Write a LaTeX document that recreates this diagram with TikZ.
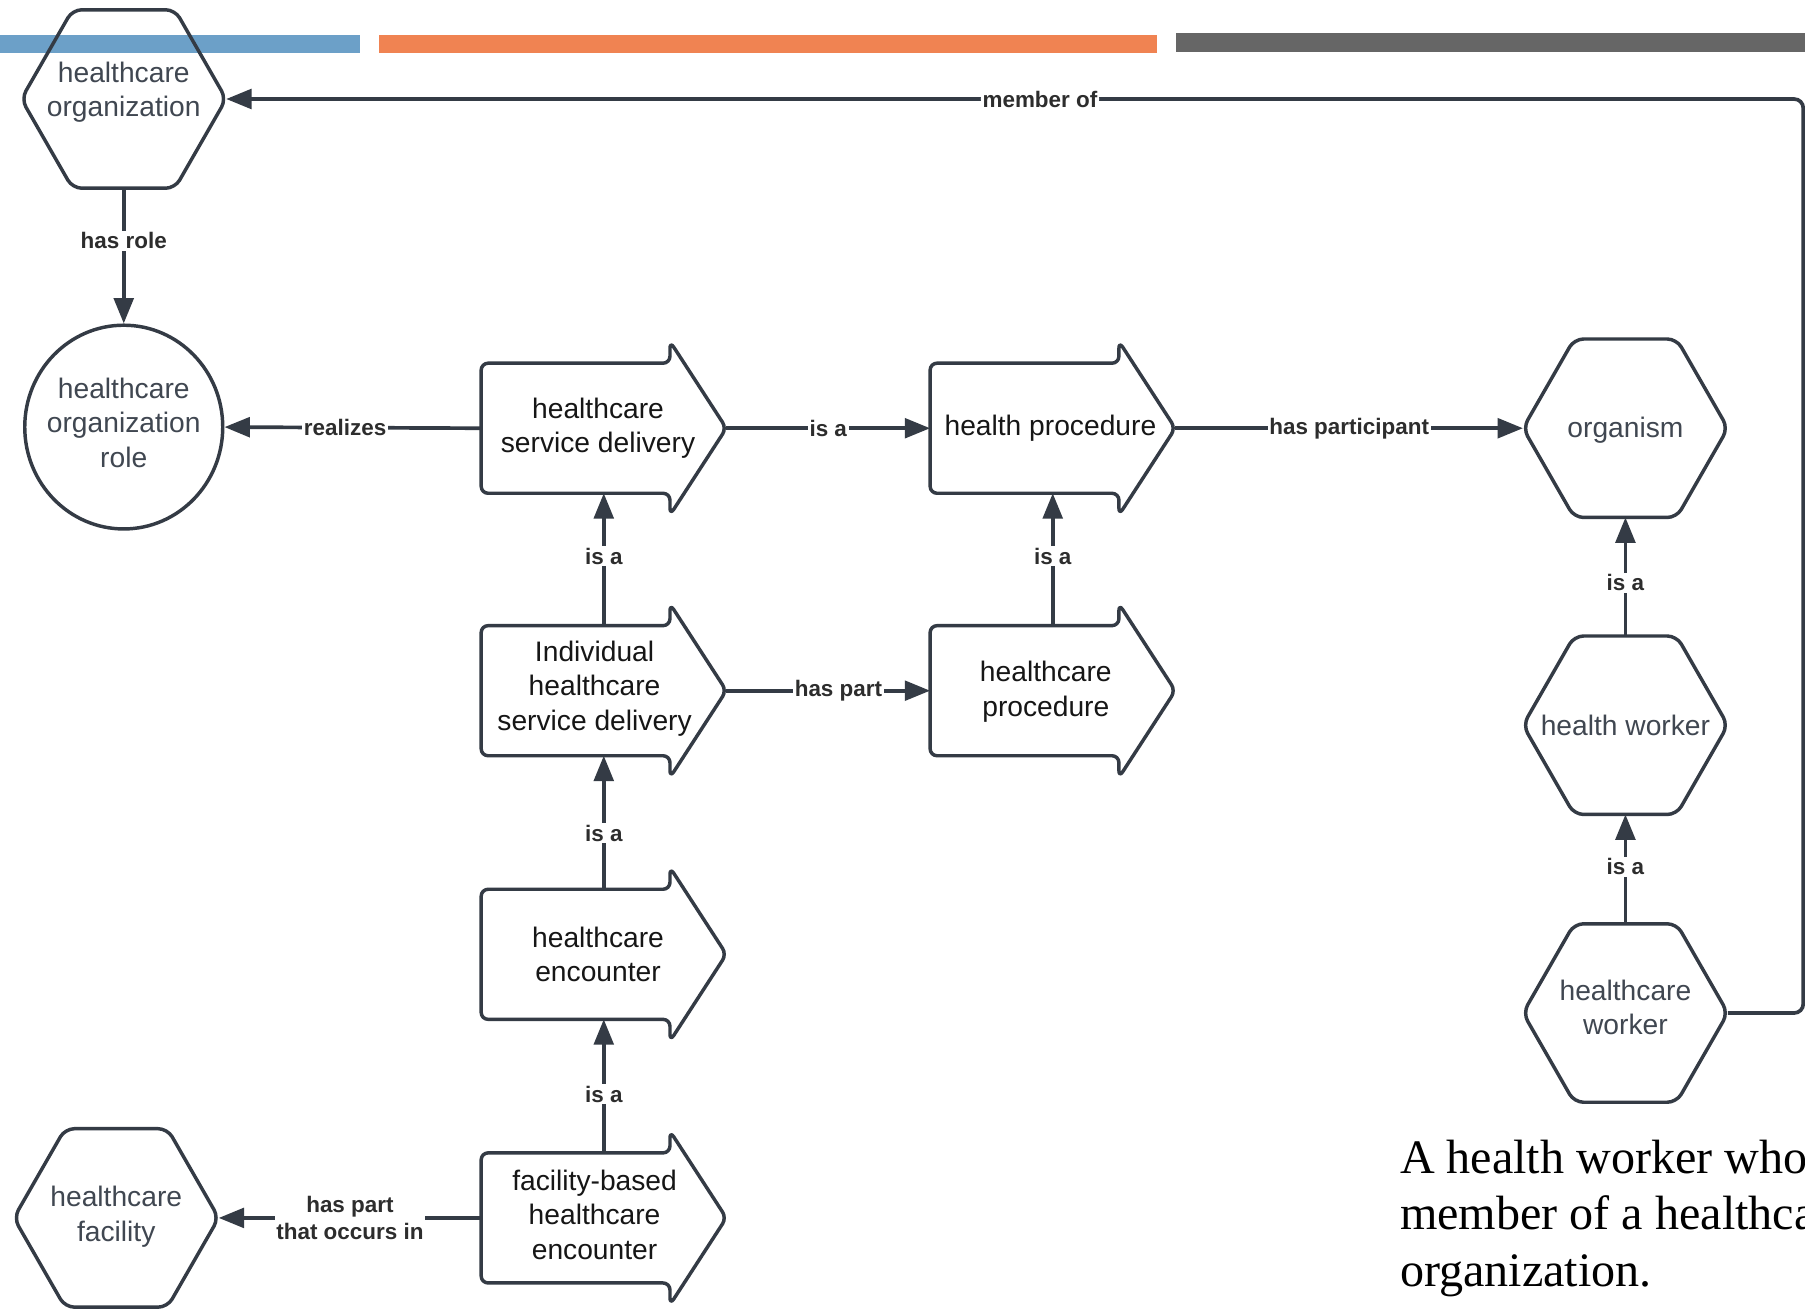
\documentclass[tikz,border=0pt]{standalone}
\usepackage{fontspec}
\setmainfont{Liberation Sans}
\newfontfamily\capfont{Liberation Serif}
\usetikzlibrary{arrows.meta,shapes.geometric}

\definecolor{linec}{RGB}{52,59,69}
\definecolor{hextext}{RGB}{64,71,81}
\definecolor{boxtext}{RGB}{22,22,22}
\definecolor{lblc}{RGB}{45,45,45}
\definecolor{barblue}{RGB}{108,160,200}
\definecolor{barorange}{RGB}{240,131,82}
\definecolor{bargray}{RGB}{102,102,102}

\tikzset{
  outline/.style={draw=linec, line width=3pt, line join=round},
  conn/.style={draw=linec, line width=3.2pt, -{Triangle[length=22pt,width=17pt]}},
  lbl/.style={fill=white, inner sep=1.5pt, text=lblc,
    font=\bfseries\fontsize{19.5}{23}\selectfont, align=center},
  shapetext/.style={inner sep=0pt, align=center, font=\fontsize{24.5}{30}\selectfont},
  captext/.style={inner sep=0pt, anchor=base west, text=black,
    font=\capfont\fontsize{41.8}{50}\selectfont},
}

% block arrow: name, centre x, centre y, text, text offset x, text offset y
\newcommand{\blockarrow}[6]{%
  \begin{scope}[shift={(#2,#3)}]
    \draw[outline, fill=white, rounded corners=6pt]
      (-106.5,0) -- (-106.5,-56.5) -- (57.5,-56.5) -- (57.5,-75.5)
      -- (106.5,0) -- (57.5,75.5) -- (57.5,56.5) -- (-106.5,56.5) -- cycle;
    \coordinate (#1-w) at (-106.5,0);
    \coordinate (#1-e) at (106.5,0);
    \coordinate (#1-n) at (0,-56.5);
    \coordinate (#1-s) at (0,56.5);
    \node[shapetext, text=boxtext] (#1) at (#5,#6) {#4};
  \end{scope}}

% hexagon: name, centre x, centre y, text, text offset
\newcommand{\hexnode}[5]{%
  \begin{scope}[shift={(#2,#3)}]
    \draw[outline, rounded corners=8pt]
      (0,-77.5) -- (44.5,-77.5) -- (89,0) -- (44.5,77.5) -- (-44.5,77.5)
      -- (-89,0) -- (-44.5,-77.5) -- cycle;
    \coordinate (#1-w) at (-89,0);
    \coordinate (#1-e) at (89,0);
    \coordinate (#1-n) at (0,-77.5);
    \coordinate (#1-s) at (0,77.5);
    \node[shapetext, text=hextext] (#1) at (0,#5) {#4};
  \end{scope}}

\begin{document}
\begin{tikzpicture}[x=1pt, y=-1pt]
  \fill[white] (0,0) rectangle (1568,1137);
  \useasboundingbox (0,0) rectangle (1568,1137);

  % header bars
  \fill[barblue] (0,30) rectangle (313,46);
  \fill[barorange] (329,30) rectangle (1005,46);
  \fill[bargray] (1022,29) rectangle (1568,45);

  % hexagons
  \hexnode{org}{107.5}{86}{healthcare\\organization}{-6}
  \hexnode{organism}{1412}{372}{organism}{2}
  \hexnode{hw}{1412}{630}{health worker}{0}
  \hexnode{hcw}{1412}{880}{healthcare\\worker}{-5}
  \hexnode{fac}{101}{1058}{healthcare\\facility}{-1}

  % role
  \node[draw=linec, line width=3pt, ellipse, minimum width=172pt, minimum height=177pt,
        inner sep=0pt] (role) at (107.5,371) {};
  \node[shapetext, text=hextext] (roletext) at (107.5,367)
        {healthcare\\organization\\role};

  % processes
  \blockarrow{hsd}{524.5}{372}{healthcare\\service delivery}{-5}{0}
  \blockarrow{hp}{914.5}{372}{health procedure}{-2}{0}
  \blockarrow{ihsd}{524.5}{600}{Individual\\healthcare\\service delivery}{-8}{-2}
  \blockarrow{hcp}{914.5}{600}{healthcare\\procedure}{-6}{1}
  \blockarrow{enc}{524.5}{829}{healthcare\\encounter}{-5}{0}
  \blockarrow{fbe}{524.5}{1058}{facility-based\\healthcare\\encounter}{-8}{-3}

  % relations
  \coordinate (turn) at (1566.5,880);
  \draw[conn, rounded corners=8pt] (hcw-e) -- (turn) |- (org-e)
    node[lbl, pos=0.742] (l-member) {member of};
  \draw[conn] (org-s) -- (role.north) node[lbl, pos=0.39] (l-role) {has role};
  \draw[conn] (hsd-w) -- (role.east) node[lbl, pos=0.53] (l-real) {realizes};
  \draw[conn] (hsd-e) -- (hp-w) node[lbl, pos=0.5] (l-isa1) {is a};
  \draw[conn] (hp-e) -- (organism-w) node[lbl, pos=0.5] (l-part) {has participant};
  \draw[conn] (ihsd-n) -- (hsd-s) node[lbl, pos=0.526] (l-isa2) {is a};
  \draw[conn] (hcp-n) -- (hp-s) node[lbl, pos=0.526] (l-isa3) {is a};
  \draw[conn] (ihsd-e) -- (hcp-w) node[lbl, pos=0.55] (l-haspart) {has part};
  \draw[conn] (enc-n) -- (ihsd-s) node[lbl, pos=0.42] (l-isa4) {is a};
  \draw[conn] (fbe-n) -- (enc-s) node[lbl, pos=0.44] (l-isa5) {is a};
  \draw[conn] (fbe-w) -- (fac-e) node[lbl, pos=0.5] (l-occurs) {has part\\that occurs in};
  \draw[conn] (hw-n) -- (organism-s) node[lbl, pos=0.45] (l-isa6) {is a};
  \draw[conn] (hcw-n) -- (hw-s) node[lbl, pos=0.52] (l-isa7) {is a};

  % caption
  \node[captext] (cap1) at (1216,1019) {A health worker who};
  \node[captext] (cap2) at (1216,1068) {member of a healthcare};
  \node[captext] (cap3) at (1216,1118) {organization.};
\end{tikzpicture}
\end{document}
